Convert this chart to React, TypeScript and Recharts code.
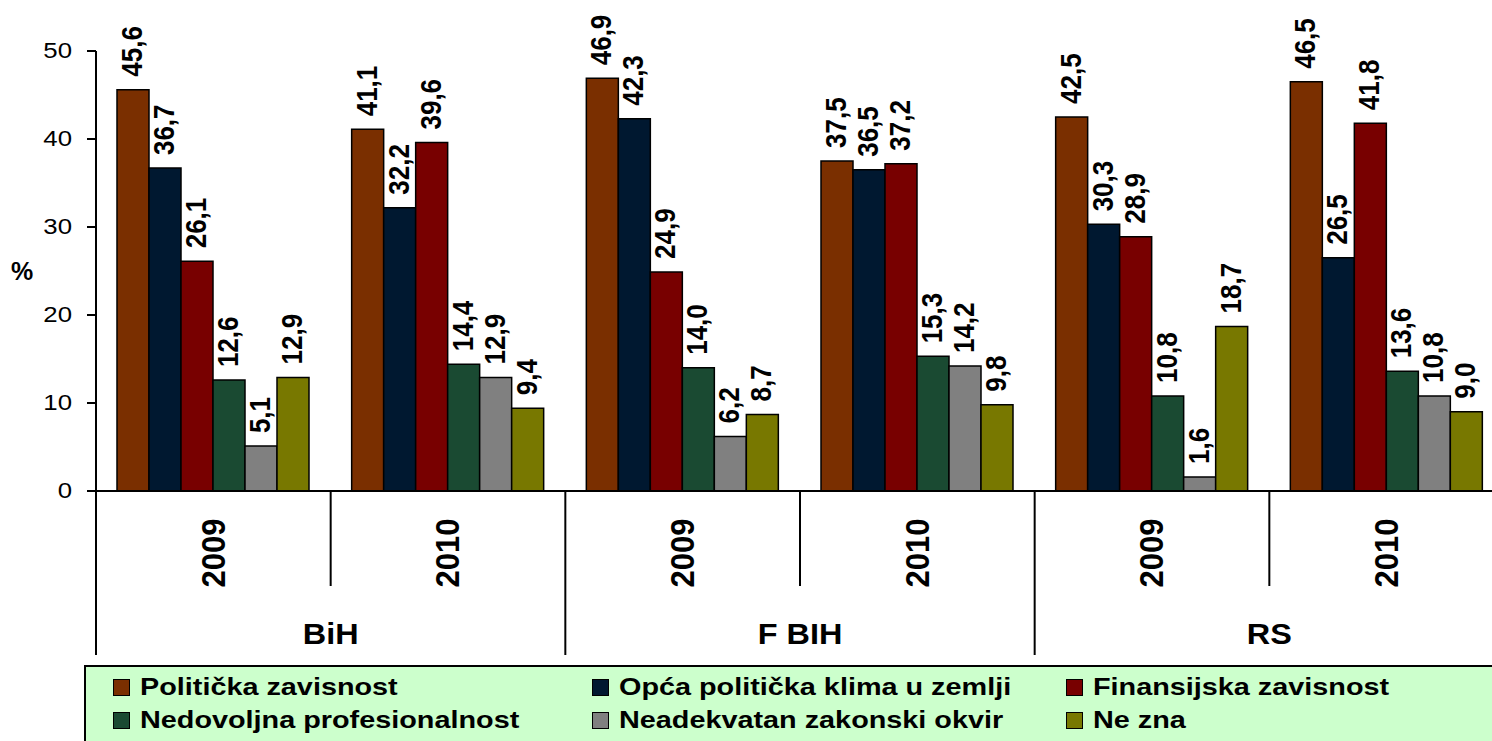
import { BarChart, Bar, XAxis, YAxis, LabelList } from 'recharts';

const years = ['2009', '2010', '2009', '2010', '2009', '2010'];
const regions = ['BiH', 'F BIH', 'RS'];

const seriesNames = [
  'Politička zavisnost',
  'Opća politička klima u zemlji',
  'Finansijska zavisnost',
  'Nedovoljna profesionalnost',
  'Neadekvatan zakonski okvir',
  'Ne zna',
];
const seriesColors = ['#7a2f00', '#001830', '#780000', '#1a4a32', '#808080', '#787800'];

const politicka = [45.6, 41.1, 46.9, 37.5, 42.5, 46.5];
const opcaKlima = [36.7, 32.2, 42.3, 36.5, 30.3, 26.5];
const finansijska = [26.1, 39.6, 24.9, 37.2, 28.9, 41.8];
const profesionalnost = [12.6, 14.4, 14.0, 15.3, 10.8, 13.6];
const zakonskiOkvir = [5.1, 12.9, 6.2, 14.2, 1.6, 10.8];
const neZna = [12.9, 9.4, 8.7, 9.8, 18.7, 9.0];

const yTicks = [0, 10, 20, 30, 40, 50];

const seriesValues = [politicka, opcaKlima, finansijska, profesionalnost, zakonskiOkvir, neZna];
const seriesKeys = ['s0', 's1', 's2', 's3', 's4', 's5'];

const data = years.map((year, i) => {
  const row: any = { key: `${regions[Math.floor(i / 2)]} ${year}`, year, region: regions[Math.floor(i / 2)] };
  seriesKeys.forEach((k, s) => { row[k] = seriesValues[s][i]; });
  return row;
});

const FONT = 'Liberation Sans, Arial, sans-serif';
const CHART_W = 1504;
const CHART_H = 741;
const PLOT_LEFT = 96;
const PLOT_RIGHT_MARGIN = 0;
const BAND = (CHART_W - PLOT_LEFT - PLOT_RIGHT_MARGIN) / years.length;

const fmt = (v: number) => v.toFixed(1).replace('.', ',');

// the original text is a bit wide, so glyphs get stretched horizontally
const BarValueLabel = (props: any) => {
  const { x, y, width, value } = props;
  const cx = x + width / 2;
  return (
    <text
      transform={`translate(${cx - 1}, ${y - 13}) scale(1.12, 1) rotate(-90)`}
      textAnchor="start"
      dominantBaseline="central"
      fontFamily={FONT}
      fontWeight="bold"
      fontSize={26}
      fill="#000"
    >
      {fmt(value)}
    </text>
  );
};

const YTick = (props: any) => {
  const { x, y, payload } = props;
  return (
    <text
      transform={`translate(${x}, ${y}) scale(1.2, 1)`}
      textAnchor="end"
      dominantBaseline="central"
      fontFamily={FONT}
      fontSize={21.5}
      fill="#000"
    >
      {payload.value}
    </text>
  );
};

const CategoryTick = (props: any) => {
  const { x, y, payload } = props;
  const i = payload.index;
  const left = x - BAND / 2;
  const isGroupStart = i % 2 === 0;
  return (
    <g>
      <line x1={left} x2={left} y1={y} y2={y + (isGroupStart ? 164 : 95)} stroke="#000" strokeWidth={2} />
      {i === years.length - 1 && (
        <line x1={x + BAND / 2} x2={x + BAND / 2} y1={y} y2={y + 164} stroke="#000" strokeWidth={2} />
      )}
      <text
        transform={`translate(${x}, ${y + 62}) scale(1.07, 1) rotate(-90)`}
        textAnchor="middle"
        dominantBaseline="central"
        fontFamily={FONT}
        fontWeight="bold"
        fontSize={31}
        fill="#000"
      >
        {years[i]}
      </text>
      {!isGroupStart && (
        <text
          transform={`translate(${left}, ${y + 143}) scale(1.08, 1)`}
          textAnchor="middle"
          dominantBaseline="central"
          fontFamily={FONT}
          fontWeight="bold"
          fontSize={30}
          fill="#000"
        >
          {regions[Math.floor(i / 2)]}
        </text>
      )}
    </g>
  );
};

const PercentLabel = () => (
  <text x={22} y={271} textAnchor="middle" dominantBaseline="central" fontFamily={FONT} fontWeight="bold" fontSize={25} fill="#000">
    %
  </text>
);

const legendCols = [113, 592, 1066];
const legendRows = [687, 720];

export default function App() {
  return (
    <div style={{ position: 'relative', width: 1492, height: 741, overflow: 'hidden', background: '#fff' }}>
      <style>{'body{margin:0}'}</style>
      <BarChart
        width={CHART_W}
        height={CHART_H}
        data={data}
        margin={{ top: 51, right: PLOT_RIGHT_MARGIN, bottom: 0, left: PLOT_LEFT - 60 }}
        barGap={0}
        barCategoryGap={21}
      >
        <XAxis
          dataKey="key"
          height={250}
          interval={0}
          tickLine={false}
          tickSize={0}
          tickMargin={0}
          axisLine={{ stroke: '#000', strokeWidth: 2 }}
          tick={<CategoryTick />}
        />
        <YAxis
          width={60}
          domain={[0, 50]}
          ticks={yTicks}
          interval={0}
          tickSize={9}
          tickMargin={15}
          axisLine={{ stroke: '#000', strokeWidth: 2 }}
          tickLine={{ stroke: '#000', strokeWidth: 2 }}
          tick={<YTick />}
          label={<PercentLabel />}
        />
        {seriesKeys.map((k, s) => (
          <Bar key={k} dataKey={k} name={seriesNames[s]} fill={seriesColors[s]} stroke="#000" strokeWidth={1.5} isAnimationActive={false}>
            <LabelList dataKey={k} content={<BarValueLabel />} />
          </Bar>
        ))}
      </BarChart>

      <div
        style={{
          position: 'absolute',
          left: 84,
          top: 665,
          width: 1420,
          height: 90,
          background: '#ccffcc',
          borderTop: '2px solid #000',
          borderLeft: '2px solid #000',
          boxSizing: 'border-box',
        }}
      />
      {seriesNames.map((name, s) => {
        const col = legendCols[s % 3];
        const row = legendRows[Math.floor(s / 3)];
        return (
          <div
            key={name}
            style={{
              position: 'absolute',
              left: col,
              top: row - 15,
              height: 30,
              display: 'flex',
              alignItems: 'center',
              whiteSpace: 'nowrap',
            }}
          >
            <span
              style={{
                display: 'inline-block',
                width: 15,
                height: 15,
                background: seriesColors[s],
                border: '1.5px solid #000',
                marginRight: 10,
              }}
            />
            <span
              style={{
                display: 'inline-block',
                fontFamily: FONT,
                fontWeight: 'bold',
                fontSize: 24,
                color: '#000',
                transform: 'scaleX(1.2)',
                transformOrigin: 'left center',
              }}
            >
              {name}
            </span>
          </div>
        );
      })}
    </div>
  );
}
